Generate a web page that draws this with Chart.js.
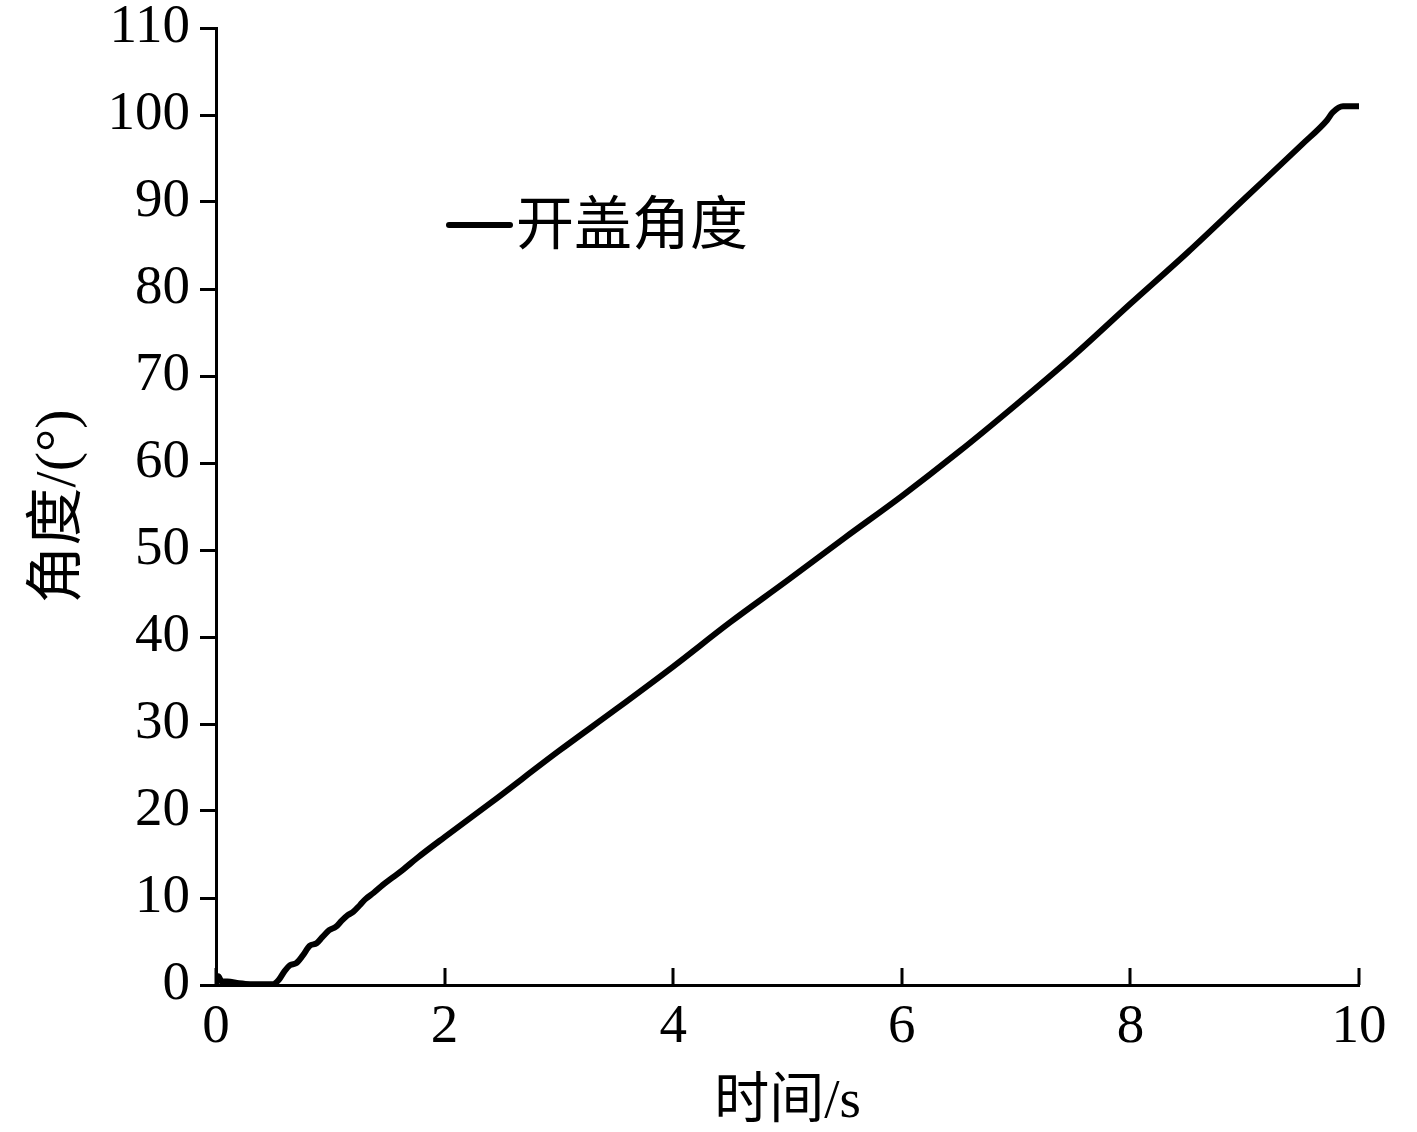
<!DOCTYPE html>
<html>
<head>
<meta charset="utf-8">
<script src="https://cdn.jsdelivr.net/npm/chart.js@4/dist/chart.umd.min.js"></script>
<style>
  html, body { margin: 0; padding: 0; background: #fff; }
  #chart { display: block; }
</style>
</head>
<body>
<canvas id="chart" width="1417" height="1132"></canvas>
<script>
// time (s) and lid opening angle (deg)
const timeValues = [0, 0.02, 0.05, 0.1, 0.2, 0.3, 0.4, 0.5, 0.55, 0.6, 0.65, 0.7, 0.76, 0.82, 0.88, 0.93, 0.99,
  1.05, 1.1, 1.15, 1.2, 1.26, 1.31, 1.38, 1.46, 1.55, 1.64, 1.76, 2.0, 2.4, 3.0, 3.5, 4.0, 4.5, 5.0, 5.5,
  6.0, 6.5, 7.0, 7.5, 8.0, 8.5, 9.0, 9.5, 9.72, 9.77, 9.86, 10.0];
const angleValues = [0, 1.0, 0.4, 0.4, 0.2, 0.1, 0.1, 0.1, 0.6, 1.6, 2.3, 2.5, 3.4, 4.5, 4.8, 5.5, 6.3,
  6.7, 7.4, 8.0, 8.4, 9.2, 9.9, 10.6, 11.5, 12.4, 13.3, 14.6, 17.0, 20.9, 26.9, 31.7, 36.6, 41.7, 46.5, 51.4,
  56.2, 61.3, 66.7, 72.3, 78.3, 84.2, 90.4, 96.6, 99.4, 100.3, 101.0, 101.0];

const seriesLabel = '开盖角度';
const xTitle = '时间/s';
const yTitle = '角度/(°)';

const FONT = "'Liberation Serif', 'Noto Sans CJK SC', serif";
Chart.defaults.font.family = FONT;
Chart.defaults.color = '#000';

// x axis ticks point inward (up into the plot)
const innerXTicks = {
  id: 'innerXTicks',
  afterDraw(chart) {
    const ctx = chart.ctx;
    const x = chart.scales.x;
    const bottom = chart.chartArea.bottom;
    ctx.save();
    ctx.strokeStyle = '#000';
    ctx.lineWidth = 3;
    x.ticks.forEach(t => {
      const px = Math.round(x.getPixelForValue(t.value));
      ctx.beginPath();
      ctx.moveTo(px, bottom);
      ctx.lineTo(px, bottom - 17);
      ctx.stroke();
    });
    ctx.restore();
  }
};

// legend sample line + label placed inside the plot
const insideLegend = {
  id: 'insideLegend',
  afterDraw(chart) {
    const ctx = chart.ctx;
    const ds = chart.data.datasets[0];
    ctx.save();
    ctx.strokeStyle = ds.borderColor;
    ctx.lineWidth = 6;
    ctx.lineCap = 'round';
    ctx.beginPath();
    ctx.moveTo(449, 225);
    ctx.lineTo(510, 225);
    ctx.stroke();
    ctx.fillStyle = '#000';
    ctx.font = '58px ' + FONT;
    ctx.textBaseline = 'middle';
    ctx.textAlign = 'left';
    ctx.fillText(ds.label, 516, 229);
    ctx.restore();
  }
};

const points = timeValues.map((t, i) => ({ x: t, y: angleValues[i] }));

new Chart(document.getElementById('chart'), {
  type: 'line',
  data: {
    datasets: [{
      label: seriesLabel,
      data: points,
      borderColor: '#000',
      borderWidth: 6,
      pointRadius: 0,
      cubicInterpolationMode: 'monotone',
      borderJoinStyle: 'round',
      borderCapStyle: 'round',
      fill: false
    }]
  },
  options: {
    responsive: false,
    animation: false,
    layout: { padding: { top: 28, right: 58, left: 0, bottom: 0 } },
    plugins: {
      legend: { display: false },
      tooltip: { enabled: false }
    },
    scales: {
      x: {
        type: 'linear',
        min: 0,
        max: 10,
        ticks: { stepSize: 2, font: { size: 55 }, padding: 10, maxRotation: 0 },
        grid: { drawOnChartArea: false, drawTicks: false },
        border: { display: true, color: '#000', width: 3 },
        title: { display: true, text: xTitle, font: { size: 55, lineHeight: 1 }, padding: { top: 0, bottom: 2 } },
        afterFit: s => { s.height = 147; s.paddingLeft = 0; s.paddingRight = 0; }
      },
      y: {
        min: 0,
        max: 110,
        ticks: { stepSize: 10, font: { size: 55 }, padding: 10 },
        grid: { drawOnChartArea: false, drawTicks: true, tickLength: 16, color: '#000', lineWidth: 3 },
        border: { display: true, color: '#000', width: 3 },
        title: { display: true, text: yTitle, font: { size: 58, lineHeight: 1 }, padding: { top: 31, bottom: 0 } },
        afterFit: s => { s.width = 216; s.paddingTop = 0; s.paddingBottom = 0; }
      }
    }
  },
  plugins: [innerXTicks, insideLegend]
});
</script>
</body>
</html>
